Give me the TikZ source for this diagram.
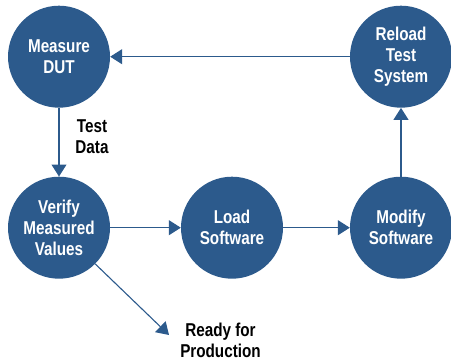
\documentclass[tikz,border=0pt]{standalone}
\usepackage{fontspec}
\setmainfont{Liberation Sans}[FakeStretch=0.82]
\usetikzlibrary{arrows.meta}
\definecolor{flowblue}{RGB}{44,90,140}
\begin{document}
\begin{tikzpicture}[x=1pt,y=1pt,
  stage/.style={circle, fill=flowblue, draw=none, minimum size=102pt, inner sep=0pt,
    text=white, align=center, font=\fontsize{18.6}{21}\selectfont\bfseries},
  flow/.style={draw=flowblue, line width=1.1pt, -{Triangle[length=12pt,width=15pt]}},
  note/.style={align=center, text=black, font=\fontsize{18.6}{21}\selectfont\bfseries}]
\useasboundingbox (0,0) rectangle (451,-362);
\node[stage] (measure) at (59,-56.7) {Measure\\DUT};
\node[stage] (reload) at (401,-56.7) {Reload\\Test\\System};
\node[stage] (verify) at (59,-227.7) {Verify\\Measured\\Values};
\node[stage] (load) at (232,-227.7) {Load\\Software};
\node[stage] (modify) at (401,-227.7) {Modify\\Software};
\node[note] (testdata) at (92,-137) {Test\\Data};
\node[note] (ready) at (220.5,-340) {Ready for\\Production};
\coordinate (readytip) at (169,-335);
\draw[flow] (reload.west) -- (measure.east);
\draw[flow] (measure.south) -- (verify.north);
\draw[flow] (verify.east) -- (load.west);
\draw[flow] (load.east) -- (modify.west);
\draw[flow] (modify.north) -- (reload.south);
\draw[flow] (verify.-45) -- (readytip);
\end{tikzpicture}
\end{document}
